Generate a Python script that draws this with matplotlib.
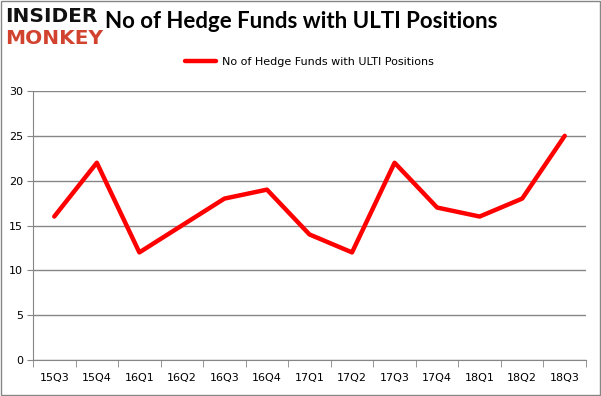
import matplotlib
matplotlib.use("Agg")
import matplotlib.pyplot as plt
from matplotlib.patches import Rectangle

# quarters and number of hedge funds holding ULTI
quarters = ["15Q3", "15Q4", "16Q1", "16Q2", "16Q3", "16Q4", "17Q1",
            "17Q2", "17Q3", "17Q4", "18Q1", "18Q2", "18Q3"]
num_funds = [16, 22, 12, 15, 18, 19, 14, 12, 22, 17, 16, 18, 25]
y_ticks = [0, 5, 10, 15, 20, 25, 30]

grid_col = "#868686"

fig = plt.figure(figsize=(6.01, 3.96), dpi=100)
ax = fig.add_axes([33 / 601, 1 - 360 / 396, 553 / 601, 269 / 396])

x = list(range(len(quarters)))
ax.plot(x, num_funds, color="#ff0000", lw=3.2, solid_capstyle="round",
        label="No of Hedge Funds with ULTI Positions", zorder=3)

ax.set_xlim(-0.5, len(quarters) - 0.5)
ax.set_ylim(0, 30)
ax.set_yticks(y_ticks)
ax.set_xticks(x)
ax.set_xticklabels(quarters)
ax.set_xticks([i - 0.5 for i in range(len(quarters) + 1)], minor=True)
ax.tick_params(axis="x", which="major", length=0, pad=9, labelsize=8)
ax.tick_params(axis="x", which="minor", length=5, color=grid_col, direction="out")
ax.tick_params(axis="y", length=4, color=grid_col, pad=3, labelsize=8)
ax.yaxis.grid(True, color=grid_col, lw=1)
ax.set_axisbelow(True)
for s in ["top", "right"]:
    ax.spines[s].set_visible(False)
for s in ["left", "bottom"]:
    ax.spines[s].set_color(grid_col)

ax.legend(loc="center", bbox_to_anchor=(0.5, 1.108), frameon=False,
          fontsize=8, handlelength=2.8, handletextpad=0.5)

fig.text(301 / 601, 1 - 22 / 396, "No of Hedge Funds with ULTI Positions",
         ha="center", va="center", fontsize=16, fontweight="bold", family="Lato")
fig.text(5 / 601, 1 - 16 / 396, "INSIDER", ha="left", va="center",
         fontsize=14.5, fontweight="heavy", family="DejaVu Sans", color="#111111")
fig.text(5 / 601, 1 - 38 / 396, "MONKEY", ha="left", va="center",
         fontsize=14.5, fontweight="heavy", family="DejaVu Sans", color="#d2432f")

# figure border
fig.patches.append(Rectangle((0.001, 0.002), 0.997, 0.996, transform=fig.transFigure,
                             fill=False, edgecolor=grid_col, lw=1))

fig.savefig("out.png", dpi=100)
